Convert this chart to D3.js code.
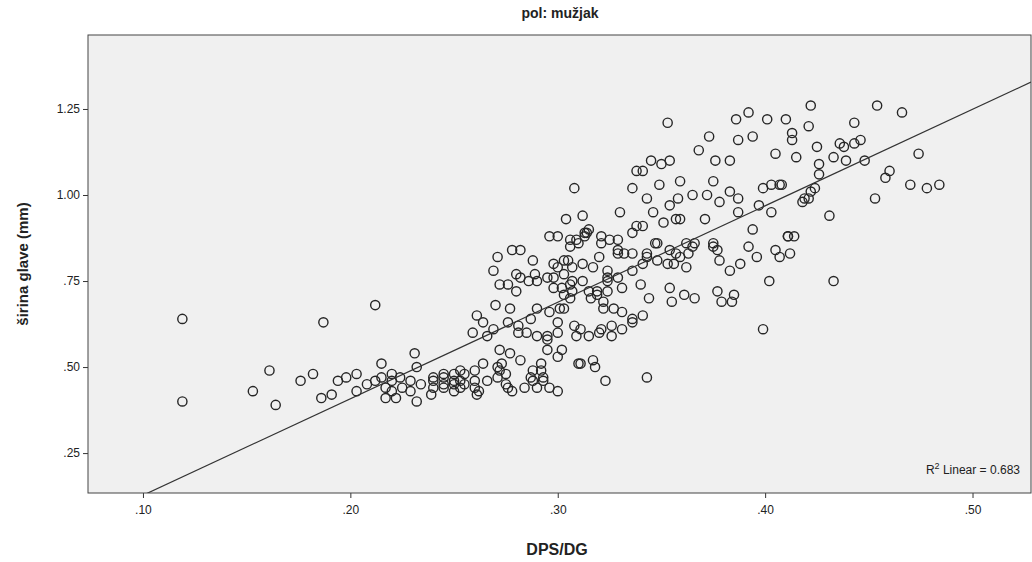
<!DOCTYPE html>
<html lang="en">
<head>
<meta charset="UTF-8">
<title>pol: mužjak</title>
<script src="https://d3js.org/d3.v7.min.js"></script>
<style>
    body { margin: 0; background: #fff; }
    svg text { font-family: "Liberation Sans", Arial, sans-serif; fill: #222; }
</style>
</head>
<body>
<svg id="chart" width="1032" height="562"></svg>
<script>
// DPS/DG (x) and širina glave in mm (y)
const dpsDg = [
    .119, .119, .161, .153, .164, .176, .182, .187, .194, .186, .191,
    .231, .215, .232, .198, .203, .203, .208, .212, .215, .220, .217, .220, .220, .217, .222,
    .224, .229, .229, .232, .234, .239, .225, .240, .240, .240, .245, .245, .245, .245,
    .250, .250, .250, .250,
    .259, .266, .269, .281, .285, .290, .295, .295, .300, .272, .277, .282, .295, .300, .302,
    .310, .264, .253, .253, .253, .255, .255, .260, .260, .260, .262, .261, .271, .273, .272,
    .271, .275, .275, .278, .276, .266, .284, .288, .287, .288, .292, .292, .293, .293, .290,
    .296, .300,
    .296, .300, .306, .306, .310, .271, .278, .282, .288, .269, .280, .282, .286, .272, .276,
    .280, .289, .290, .295, .298, .300, .303, .305, .303, .307, .298, .298, .302, .303, .306,
    .307, .303, .301, .306, .270, .277, .261, .264, .276, .281, .287, .290, .296, .300,
    .336, .313, .313, .309, .321, .325, .329, .321, .348, .329, .329, .332, .336, .343, .343,
    .354, .357, .359, .363, .366, .362, .353, .356, .348, .341, .320, .312, .317, .324, .324,
    .324, .329, .336, .362, .307, .312, .315, .319, .316, .319, .324, .331, .340, .354, .361,
    .366, .344, .355, .322, .322, .327, .331, .336, .341, .308, .321, .326,
    .311, .309, .315, .320, .326, .331, .336, .311, .317, .318, .323, .343,
    .308, .336, .338, .304, .312, .330, .338, .315, .314,
    .353, .386, .392, .401, .410, .373, .387, .394, .368, .405, .345, .350, .354, .376, .383,
    .341, .349, .359, .375, .383, .387, .378, .399, .403, .407, .343, .354, .358, .365, .372,
    .346, .351, .357, .359, .371, .387, .397, .403, .341, .394, .411, .347, .375,
    .422, .454, .466, .421, .443, .413, .413, .425, .436, .438, .443, .446, .474, .415, .433,
    .439, .448, .426, .426, .460, .458, .408, .424, .422, .419, .421, .418, .470, .453, .431,
    .411, .414, .478, .484,
    .365, .375, .377, .392, .405, .407, .412, .378, .388, .396, .383, .402, .433, .377, .385,
    .379, .384, .399, .212
];

const sirinaGlave = [
    .64, .40, .49, .43, .39, .46, .48, .63, .46, .41, .42,
    .54, .51, .50, .47, .48, .43, .45, .46, .47, .48, .44, .46, .43, .41, .41,
    .47, .46, .43, .40, .45, .42, .44, .47, .46, .44, .48, .47, .45, .44,
    .48, .46, .45, .43,
    .60, .59, .61, .60, .60, .59, .59, .58, .60, .55, .54, .52, .55, .53, .55,
    .51, .51, .49, .46, .44, .48, .45, .49, .46, .44, .43, .42, .50, .51, .49,
    .47, .48, .45, .43, .44, .46, .44, .49, .47, .46, .51, .49, .47, .46, .44,
    .44, .43,
    .88, .88, .87, .85, .86, .82, .84, .84, .81, .78, .77, .76, .75, .74, .74,
    .72, .77, .75, .76, .80, .79, .81, .81, .77, .79, .76, .73, .73, .71, .74,
    .72, .67, .67, .70, .68, .67, .65, .63, .63, .62, .64, .67, .66, .63,
    .89, .89, .88, .87, .88, .87, .87, .86, .86, .84, .83, .83, .83, .83, .82,
    .84, .83, .82, .83, .86, .86, .80, .80, .81, .80, .82, .80, .79, .78, .76,
    .75, .76, .78, .79, .75, .75, .72, .72, .70, .71, .72, .73, .74, .73, .71,
    .70, .70, .69, .69, .67, .67, .66, .64, .65, .62, .61, .62,
    .61, .59, .59, .60, .59, .61, .63, .51, .52, .50, .46, .47,
    1.02, 1.02, 1.07, .93, .94, .95, .91, .90, .89,
    1.21, 1.22, 1.24, 1.22, 1.22, 1.17, 1.16, 1.17, 1.13, 1.12, 1.10, 1.09, 1.10, 1.10, 1.10,
    1.07, 1.03, 1.04, 1.04, 1.01, .99, .98, 1.02, 1.03, 1.03, .99, .97, .99, 1.00, 1.00,
    .95, .92, .93, .93, .93, .95, .97, .95, .91, .90, .88, .86, .86,
    1.26, 1.26, 1.24, 1.20, 1.21, 1.18, 1.16, 1.14, 1.15, 1.14, 1.15, 1.16, 1.12, 1.11, 1.11,
    1.10, 1.10, 1.09, 1.06, 1.07, 1.05, 1.03, 1.02, 1.01, .99, .99, .98, 1.03, .99, .94,
    .88, .88, 1.02, 1.03,
    .85, .85, .84, .85, .84, .82, .83, .81, .80, .82, .78, .75, .75, .72, .71,
    .69, .69, .61, .68
];

// fitted linear line
const fitIntercept = -0.153;
const fitSlope = 2.804;
const rSquared = 0.683;

const xTicks = [0.10, 0.20, 0.30, 0.40, 0.50];
const yTicks = [0.25, 0.50, 0.75, 1.00, 1.25];

const chartTitle = "pol: mužjak";
const xTitle = "DPS/DG";
const yTitle = "širina glave (mm)";

const points = dpsDg.map((d, i) => ({ x: d, y: sirinaGlave[i] }));

const svg = d3.select("#chart");
const plot = { left: 88, right: 1031, top: 35, bottom: 493 };

const x = d3.scaleLinear().domain([0.0735, 0.5282]).range([plot.left, plot.right]);
const y = d3.scaleLinear().domain([0.134, 1.465]).range([plot.bottom, plot.top]);

// SPSS style labels: ".25", "1.00"
const fmt = v => d3.format(".2f")(v).replace(/^0\./, ".");

svg.append("rect")
    .attr("x", plot.left).attr("y", plot.top)
    .attr("width", plot.right - plot.left).attr("height", plot.bottom - plot.top)
    .attr("fill", "#f0f0f0");

svg.append("defs").append("clipPath").attr("id", "plotClip")
    .append("rect")
    .attr("x", plot.left).attr("y", plot.top)
    .attr("width", plot.right - plot.left).attr("height", plot.bottom - plot.top);

// axes
const xAxis = svg.append("g")
    .attr("transform", `translate(0,${plot.bottom})`)
    .call(d3.axisBottom(x).tickValues(xTicks).tickFormat(fmt).tickSize(5).tickSizeOuter(0));
const yAxis = svg.append("g")
    .attr("transform", `translate(${plot.left},0)`)
    .call(d3.axisLeft(y).tickValues(yTicks).tickFormat(fmt).tickSize(5).tickSizeOuter(0));

[xAxis, yAxis].forEach(ax => {
    ax.select(".domain").remove();
    ax.selectAll(".tick line").attr("stroke", "#333");
    ax.selectAll(".tick text")
        .style("font-size", "12px")
        .style("font-family", "'Liberation Sans', Arial, sans-serif")
        .attr("fill", "#222");
});
xAxis.selectAll(".tick text").attr("dy", "1.05em");
yAxis.selectAll(".tick text").attr("x", -8);

// points
svg.append("g")
    .selectAll("circle")
    .data(points)
    .join("circle")
    .attr("cx", d => x(d.x))
    .attr("cy", d => y(d.y))
    .attr("r", 4.6)
    .attr("fill", "none")
    .attr("stroke", "#262626")
    .attr("stroke-width", 1.4);

// fit line
const xDom = x.domain();
svg.append("line")
    .attr("clip-path", "url(#plotClip)")
    .attr("x1", x(xDom[0])).attr("y1", y(fitIntercept + fitSlope * xDom[0]))
    .attr("x2", x(xDom[1])).attr("y2", y(fitIntercept + fitSlope * xDom[1]))
    .attr("stroke", "#333")
    .attr("stroke-width", 1.2);

// frame
svg.append("rect")
    .attr("x", plot.left).attr("y", plot.top)
    .attr("width", plot.right - plot.left).attr("height", plot.bottom - plot.top)
    .attr("fill", "none")
    .attr("stroke", "#444")
    .attr("stroke-width", 1);

// R² label
const r2 = svg.append("text")
    .attr("x", 1020).attr("y", 474)
    .attr("text-anchor", "end")
    .style("font-size", "12px");
r2.append("tspan").text("R");
r2.append("tspan").attr("dy", -5).style("font-size", "9px").text("2");
r2.append("tspan").attr("dy", 5).text(" Linear = " + rSquared.toFixed(3));

// titles
svg.append("text")
    .attr("x", 560).attr("y", 18)
    .attr("text-anchor", "middle")
    .style("font-size", "14px").style("font-weight", "bold")
    .text(chartTitle);

svg.append("text")
    .attr("x", 557).attr("y", 555)
    .attr("text-anchor", "middle")
    .style("font-size", "16px").style("font-weight", "bold")
    .text(xTitle);

svg.append("text")
    .attr("transform", `translate(28,${(plot.top + plot.bottom) / 2}) rotate(-90)`)
    .attr("text-anchor", "middle")
    .style("font-size", "15px").style("font-weight", "bold")
    .text(yTitle);
</script>
</body>
</html>
